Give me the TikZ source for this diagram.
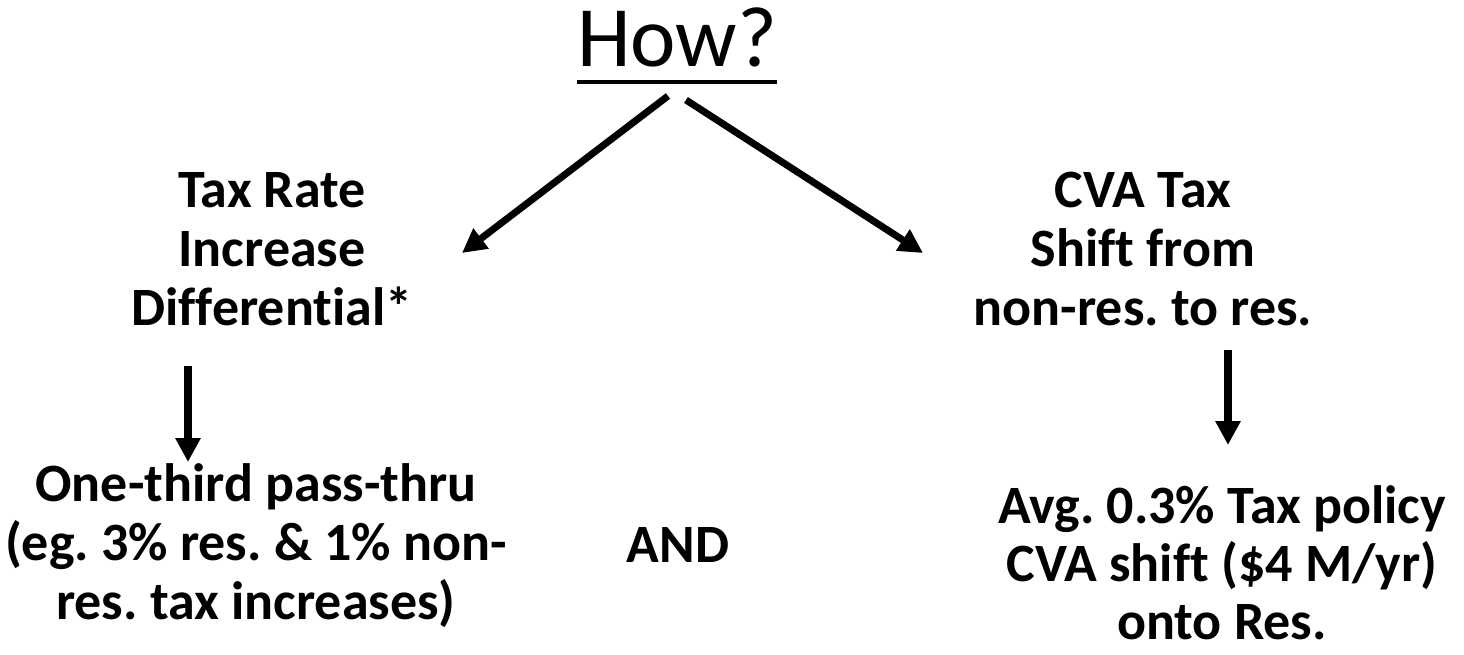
\documentclass[tikz,border=0pt]{standalone}
\usepackage{fontspec}
\setmainfont{Carlito}[Ligatures={TeX,NoCommon}]
\usetikzlibrary{arrows.meta}
\begin{document}
\frenchspacing
\begin{tikzpicture}[x=1pt,y=-1pt,
  txt/.style={font=\bfseries\fontsize{54}{59}\selectfont, align=center, inner sep=0pt},
  arr/.style={line width=7pt, -{Triangle[length=24pt,width=24pt]}},
  darr/.style={line width=8pt, -{Triangle[length=24pt,width=24pt]}}]
\useasboundingbox (0,0) rectangle (1464,654);
\node[inner sep=0pt, anchor=base, font=\fontsize{86}{100}\selectfont] (how) at (677,66) {How?};
\draw[line width=3.5pt] (how.west |- 0,82) coordinate (ul1) -- (how.east |- 0,82) coordinate (ul2);
\node[txt, anchor=base] (rate) at (272,325) {Tax Rate\\Increase\\Differential*};
\node[txt, anchor=base] (cva) at (1143,325) {CVA Tax\\Shift from\\non-res. to res.};
\node[txt, anchor=base] (third) at (256,619) {One-third pass-thru\\(eg. 3\% res. \& 1\% non-\\res. tax increases)};
\node[txt, anchor=base] (and) at (678,562) {AND};
\node[txt, anchor=base, font=\bfseries\fontsize{54}{58}\selectfont] (avg) at (1222,639) {Avg. 0.3\% Tax policy\\CVA shift (\$4 M/yr)\\onto Res.};
\coordinate (l1) at (668,96);
\coordinate (l2) at (462,253);
\coordinate (r1) at (686,100);
\coordinate (r2) at (923,253);
\coordinate (d1) at (188,366);
\coordinate (d2) at (188,462);
\coordinate (e1) at (1228,350);
\coordinate (e2) at (1228,445);
\draw[arr] (l1) -- (l2);
\draw[arr] (r1) -- (r2);
\draw[darr] (d1) -- (d2);
\draw[darr] (e1) -- (e2);
\end{tikzpicture}
\end{document}
